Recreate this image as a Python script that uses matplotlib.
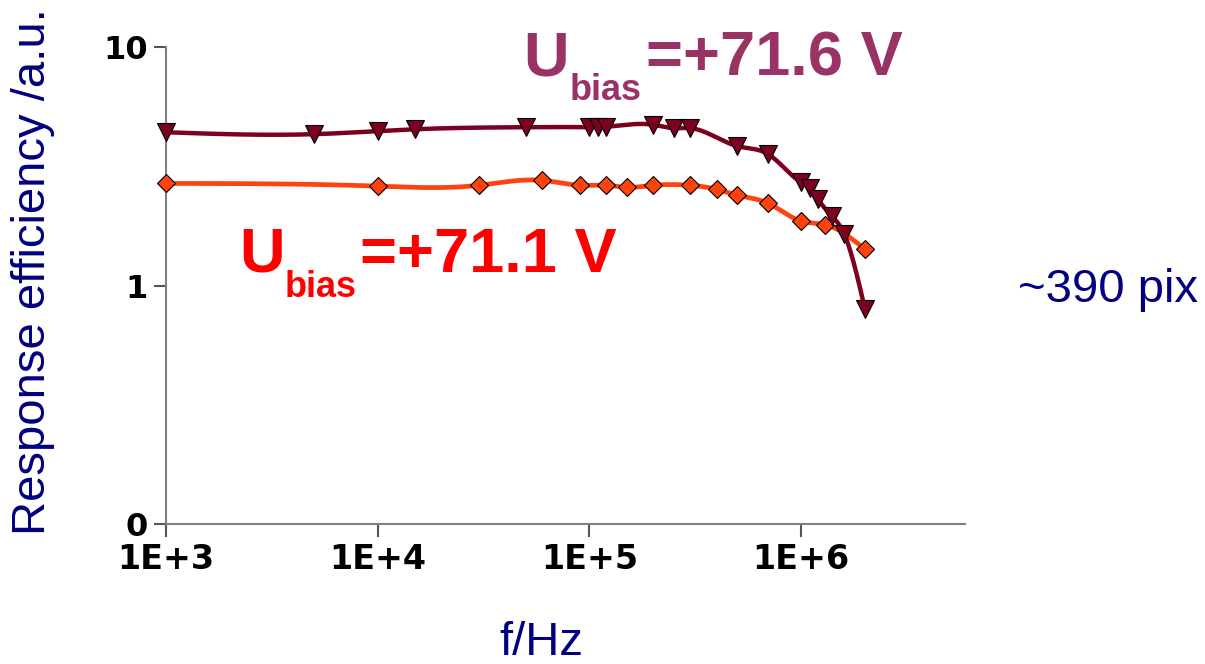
import numpy as np
import matplotlib
matplotlib.use('Agg')
import matplotlib.pyplot as plt

# Measured response efficiency versus frequency for two bias voltages
f_716 = [1e3, 5e3, 1e4, 1.5e4, 5e4, 1e5, 1.1e5, 1.2e5, 2e5, 2.5e5, 3e5,
         5e5, 7e5, 1e6, 1.1e6, 1.2e6, 1.4e6, 1.6e6, 2e6]
eff_716 = [4.39, 4.31, 4.44, 4.52, 4.61, 4.61, 4.61, 4.63, 4.72, 4.57, 4.57,
           3.84, 3.55, 2.71, 2.56, 2.30, 1.95, 1.64, 0.80]

f_711 = [1e3, 1e4, 3e4, 6e4, 9e4, 1.2e5, 1.5e5, 2e5, 3e5, 4e5, 5e5,
         7e5, 1e6, 1.3e6, 2e6]
eff_711 = [2.68, 2.61, 2.63, 2.76, 2.63, 2.63, 2.58, 2.63, 2.63, 2.53, 2.39,
           2.21, 1.86, 1.80, 1.42]

y_ticks = [0.1, 1, 10]
y_tick_labels = ['0', '1', '10']
x_ticks = [1e3, 1e4, 1e5, 1e6]
x_tick_labels = ['1E+3', '1E+4', '1E+5', '1E+6']

plt.rcParams['font.family'] = ['Liberation Sans', 'DejaVu Sans']


def spline(x, y, xs):
    # natural cubic spline through the points
    x = np.asarray(x, float)
    y = np.asarray(y, float)
    n = len(x)
    h = np.diff(x)
    A = np.zeros((n, n))
    b = np.zeros(n)
    A[0, 0] = A[-1, -1] = 1
    for i in range(1, n - 1):
        A[i, i - 1] = h[i - 1]
        A[i, i] = 2 * (h[i - 1] + h[i])
        A[i, i + 1] = h[i]
        b[i] = 3 * ((y[i + 1] - y[i]) / h[i] - (y[i] - y[i - 1]) / h[i - 1])
    c = np.linalg.solve(A, b)
    bb = (y[1:] - y[:-1]) / h - h * (2 * c[:-1] + c[1:]) / 3
    d = (c[1:] - c[:-1]) / (3 * h)
    idx = np.clip(np.searchsorted(x, xs) - 1, 0, n - 2)
    t = xs - x[idx]
    return y[idx] + bb[idx] * t + c[idx] * t**2 + d[idx] * t**3


def smooth(f, eff):
    lx = np.log10(f)
    ly = np.log10(eff)
    xs = np.linspace(lx[0], lx[-1], 800)
    return 10**xs, 10**spline(lx, ly, xs)


fig = plt.figure(figsize=(12.05, 6.64), dpi=100)
ax = fig.add_axes([166 / 1205, 1 - 524 / 664, (965 - 166) / 1205, (524 - 47) / 664])

c_hi = '#7e0021'
c_lo = '#ff420e'

sx, sy = smooth(f_711, eff_711)
ax.plot(sx, sy, color=c_lo, lw=3.4, zorder=2, solid_capstyle='round')
ax.plot(f_711, eff_711, 'D', ms=9, mfc=c_lo, mec='black', mew=0.8,
        zorder=4, clip_on=False)

sx, sy = smooth(f_716, eff_716)
ax.plot(sx, sy, color=c_hi, lw=3.2, zorder=3, solid_capstyle='round')
ax.plot(f_716, eff_716, 'v', ms=13, mfc=c_hi, mec='black', mew=0.8,
        zorder=5, clip_on=False)

ax.set_xscale('log')
ax.set_yscale('log')
ax.set_xlim(1e3, 10**6.774)
ax.set_ylim(0.1, 10)
ax.set_xticks(x_ticks)
ax.set_xticklabels(x_tick_labels, family='DejaVu Sans', fontweight='bold', fontsize=24)
ax.set_yticks(y_ticks)
ax.set_yticklabels(y_tick_labels, family='DejaVu Sans', fontweight='bold', fontsize=23)
ax.minorticks_off()
ax.tick_params(axis='both', direction='out', length=9, width=1.5, color='#555555', pad=4)
ax.tick_params(axis='x', pad=5)

for s in ('top', 'right'):
    ax.spines[s].set_visible(False)
for s in ('left', 'bottom'):
    ax.spines[s].set_color('#808080')
    ax.spines[s].set_linewidth(1.5)

navy = '#000080'
fig.text(33 / 1205, 1 - 272 / 664, 'Response efficiency /a.u.', rotation=90,
         ha='center', va='center', color=navy, fontsize=34)
fig.text(541 / 1205, 1 - 643 / 664, 'f/Hz', ha='center', va='center',
         color=navy, fontsize=34)
fig.text(1108 / 1205, 1 - 290 / 664, '~390 pix', ha='center', va='center',
         color=navy, fontsize=34)


def bias_label(x_u, x_sub, x_val, base, base_sub, value, color):
    kw = dict(color=color, fontweight='bold', va='baseline', ha='left')
    fig.text(x_u / 1205, 1 - base / 664, 'U', fontsize=45.5, **kw)
    fig.text(x_sub / 1205, 1 - base_sub / 664, 'bias', fontsize=26, **kw)
    fig.text(x_val / 1205, 1 - base / 664, value, fontsize=45.5, **kw)


bias_label(523, 570, 646, 75, 100, '=+71.6 V', '#993366')
bias_label(239, 285, 360, 272, 297, '=+71.1 V', '#ff0000')

fig.savefig('out.png', dpi=100)
